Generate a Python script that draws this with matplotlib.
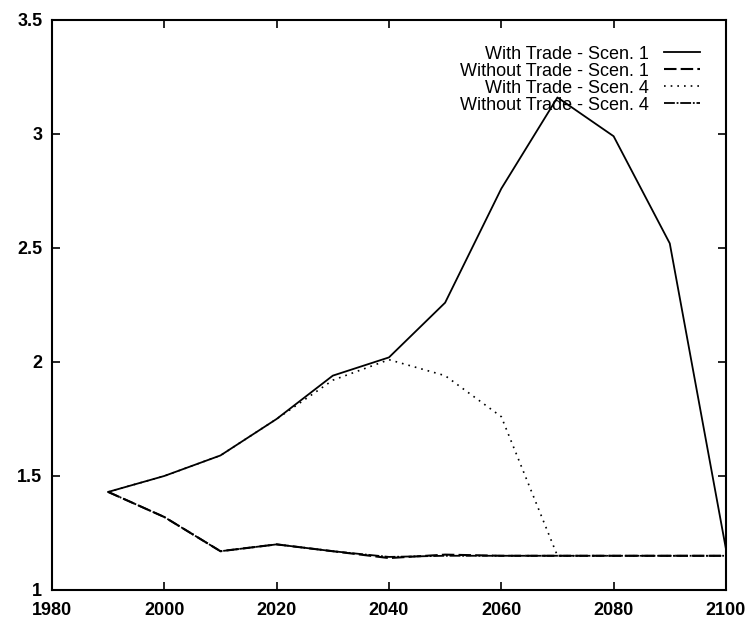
import matplotlib
matplotlib.use("Agg")
import matplotlib.pyplot as plt

years = [1990, 2000, 2010, 2020, 2030, 2040, 2050, 2060, 2070, 2080, 2090, 2100]
with_trade_s1 = [1.43, 1.50, 1.59, 1.75, 1.94, 2.02, 2.26, 2.76, 3.16, 2.99, 2.52, 1.18]
without_trade_s1 = [1.43, 1.32, 1.17, 1.20, 1.17, 1.14, 1.155, 1.15, 1.15, 1.15, 1.15, 1.15]
with_trade_s4 = [1.43, 1.50, 1.59, 1.75, 1.92, 2.01, 1.94, 1.76, 1.15, 1.15, 1.15, 1.15]
without_trade_s4 = [1.43, 1.32, 1.17, 1.20, 1.17, 1.145, 1.15, 1.15, 1.15, 1.15, 1.15, 1.15]
labels = ["With Trade - Scen. 1", "Without Trade - Scen. 1",
          "With Trade - Scen. 4", "Without Trade - Scen. 4"]

plt.rcParams['font.family'] = ['Liberation Sans', 'DejaVu Sans']
fig = plt.figure(figsize=(7.48, 6.23), dpi=100)
ax = fig.add_axes([0.0695, 0.053, 0.901, 0.915])

ax.plot(years, with_trade_s1, color='black', lw=1.3, ls='-', label=labels[0])
ax.plot(years, without_trade_s1, color='black', lw=1.5, ls=(0, (6, 2)), label=labels[1])
ax.plot(years, with_trade_s4, color='black', lw=1.2, ls=(0, (1, 3)), label=labels[2])
ax.plot(years, without_trade_s4, color='black', lw=1.3, ls=(0, (6, 1, 1, 1)), label=labels[3])

ax.set_xlim(1980, 2100)
ax.set_ylim(1, 3.5)
ax.set_xticks([1980, 2000, 2020, 2040, 2060, 2080, 2100])
ax.set_yticks([1, 1.5, 2, 2.5, 3, 3.5])
ax.set_yticklabels(['1', '1.5', '2', '2.5', '3', '3.5'])
ax.tick_params(direction='in', top=True, right=True, length=6, width=1.2,
               labelsize=13)
ax.tick_params(axis='x', pad=9)
ax.tick_params(axis='y', pad=7)
for lbl in ax.get_xticklabels() + ax.get_yticklabels():
    lbl.set_fontweight('bold')
for s in ax.spines.values():
    s.set_linewidth(1.5)

leg = ax.legend(loc='upper right', bbox_to_anchor=(0.9614, 0.955),
                frameon=False, markerfirst=False, fontsize=13,
                handlelength=2.0, labelspacing=0.0, borderaxespad=0,
                handletextpad=0.85, borderpad=0)
for t in leg.get_texts():
    t.set_ha('right')
leg._legend_box.align = 'right'

fig.savefig('out.png', dpi=100)
